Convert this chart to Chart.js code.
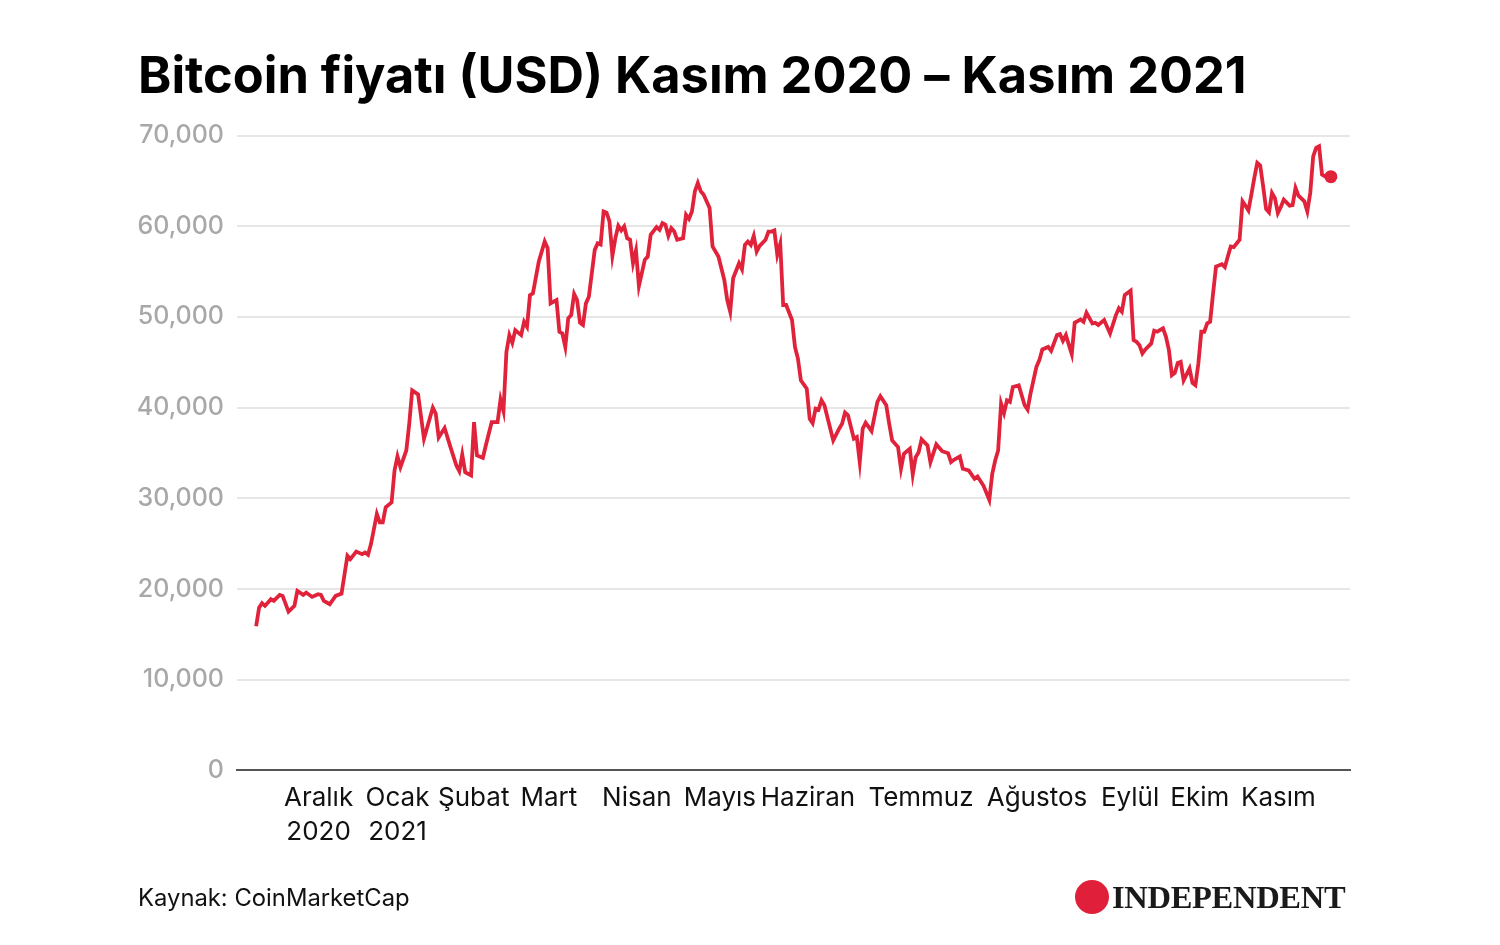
<!DOCTYPE html>
<html>
<head>
<meta charset="utf-8">
<script src="https://cdn.jsdelivr.net/npm/chart.js@4"></script>
<style>
  html, body { margin: 0; padding: 0; background: #fff; }
  #wrap { position: relative; width: 1500px; height: 945px; }
  #source { position: absolute; left: 138px; top: 884px; font: 23.8px Inter, sans-serif; color: #111; line-height: 28px; }
  #logo { position: absolute; left: 1075px; top: 879px; height: 36px; display: flex; align-items: center; }
  #logo .dot { width: 34px; height: 34px; border-radius: 50%; background: #e0203a; margin-right: 3px; }
  #logo .name { font: bold 32.5px "Liberation Serif", serif; color: #1a1a1a; letter-spacing: -0.3px; line-height: 36px; }
</style>
</head>
<body>
<div id="wrap">
  <canvas id="btc"></canvas>
  <div id="source">Kaynak: CoinMarketCap</div>
  <div id="logo"><div class="dot"></div><div class="name">INDEPENDENT</div></div>
</div>
<script>
// days since 16 Nov 2020
days = [0, 1, 2, 3, 5, 6, 8, 9, 11, 13,
  14, 16, 17, 19, 21, 22, 23, 25, 27, 29,
  31, 32, 34, 36, 37, 38, 39, 41, 42, 43,
  44, 46, 47, 48, 49, 51, 52, 53, 55, 57,
  60, 61, 62, 64, 66, 68, 69, 70, 71, 73,
  74, 75, 77, 78, 80, 82, 83, 84, 85, 86,
  87, 88, 90, 91, 92, 93, 94, 96, 98, 99,
  100, 102, 103, 104, 105, 106, 107, 108, 109, 110,
  111, 112, 113, 115, 116, 117, 118, 119, 120, 121,
  122, 123, 124, 125, 126, 127, 128, 129, 130, 132,
  133, 134, 136, 137, 138, 139, 140, 141, 142, 143,
  145, 146, 147, 148, 149, 150, 151, 152, 154, 155,
  156, 157, 159, 160, 161, 162, 164, 165, 166, 167,
  168, 169, 170, 171, 173, 174, 175, 176, 177, 178,
  179, 180, 182, 183, 184, 185, 187, 188, 189, 190,
  191, 192, 193, 195, 196, 198, 199, 200, 201, 203,
  204, 205, 206, 207, 209, 211, 212, 214, 215, 216,
  218, 219, 220, 222, 223, 224, 225, 226, 228, 229,
  231, 233, 235, 236, 237, 239, 240, 242, 244, 245,
  247, 249, 250, 251, 252, 253, 254, 255, 256, 257,
  259, 261, 262, 263, 265, 266, 267, 269, 270, 272,
  273, 274, 275, 277, 278, 280, 281, 282, 284, 285,
  286, 288, 290, 292, 293, 294, 295, 297, 298, 299,
  300, 301, 302, 304, 305, 306, 308, 309, 310, 311,
  312, 313, 314, 315, 317, 318, 319, 320, 321, 322,
  323, 324, 325, 326, 328, 329, 330, 331, 332, 334,
  335, 336, 337, 338, 339, 340, 341, 342, 343, 344,
  345, 346, 347, 348, 349, 351, 352, 353, 354, 356,
  357, 358, 359, 360, 361, 362, 363, 365];

prices = [15900, 17950, 18440, 18140, 18880, 18690, 19350, 19240, 17510, 18140,
  19800, 19350, 19610, 19130, 19430, 19350, 18690, 18320, 19240, 19500,
  23670, 23300, 24140, 23850, 24030, 23780, 24960, 28280, 27350, 27350,
  29010, 29560, 33070, 34620, 33430, 35280, 38230, 41910, 41470, 36570,
  40000, 39340, 36720, 37750, 35650, 33620, 32990, 34840, 32880, 32520,
  38410, 34730, 34470, 35830, 38410, 38410, 40890, 39630, 46150, 48000,
  47150, 48550, 48000, 49470, 48920, 52420, 52610, 56110, 58320, 57590,
  51500, 51870, 48370, 48180, 46700, 49850, 50210, 52540, 51870, 49360,
  49110, 51500, 52240, 57400, 58140, 58000, 61640, 61500, 60530, 56740,
  58690, 60050, 59540, 59980, 58690, 58510, 55930, 57330, 53420, 56300,
  56660, 59060, 59910, 59610, 60350, 60170, 58950, 59800, 59420, 58510,
  58690, 61270, 60830, 61640, 63850, 64780, 63850, 63480, 62010, 57770,
  57220, 56660, 54080, 51870, 50580, 54270, 55930, 55260, 57950, 58320,
  57950, 58950, 57220, 57840, 58510, 59420, 59420, 59540, 56850, 58060,
  51320, 51320, 49660, 46700, 45420, 43020, 42100, 38780, 38300, 39890,
  39780, 40810, 40260, 37680, 36390, 37680, 38230, 39450, 39150, 36570,
  36750, 33990, 37680, 38340, 37420, 40630, 41250, 40260, 38230, 36390,
  35650, 33260, 34920, 35470, 32630, 34540, 35090, 36500, 35830, 33990,
  35950, 35200, 34980, 33990, 34250, 34620, 33260, 33070, 32150, 32400,
  31410, 29830, 32700, 34170, 35280, 40450, 39410, 40810, 40630, 42280,
  42470, 40260, 39780, 41550, 44500, 45240, 46420, 46700, 46260, 48000,
  48110, 47370, 48000, 45900, 49360, 49730, 49470, 50470, 49290, 49360,
  49110, 49660, 48180, 50210, 50950, 50580, 52420, 52900, 47450, 47260,
  46890, 45980, 46420, 47080, 48480, 48370, 48740, 47810, 46340, 43580,
  43830, 44940, 45050, 43020, 44320, 42730, 42470, 44870, 48370, 48370,
  49290, 49470, 52610, 55560, 55820, 55490, 56660, 57770, 57700, 58510,
  62750, 62270, 61750, 63480, 65330, 66990, 66700, 64410, 61900, 61530,
  63670, 63110, 61450, 62120, 62930, 62270, 62340, 64220, 63370, 62750,
  61640, 63670, 67720, 68650, 68830, 65700, 65510, 65470];

// month labels and where they sit on the day axis
monthLabels = [["Aralık", "2020"], ["Ocak", "2021"], "Şubat", "Mart", "Nisan", "Mayıs",
  "Haziran", "Temmuz", "Ağustos", "Eylül", "Ekim", "Kasım"];
monthTicks = [21.2, 48, 73.9, 99.4, 129.3, 157.5, 187.4, 225.8, 265.2, 296.8, 320.5, 347.2];

yTicks = [0, 10000, 20000, 30000, 40000, 50000, 60000, 70000];

canvas = document.getElementById("btc");

new Chart(canvas, {
     type: "line",

     data: {
          datasets: [{
               data: days.map((d, i) => ({ x: d, y: prices[i] })),
               borderColor: "#e1223b",
               backgroundColor: "#e1223b",
               borderWidth: 3.8,
               tension: 0,
               fill: false,
               pointRadius: ctx => ctx.dataIndex === days.length - 1 ? 6.5 : 0,
               pointHoverRadius: 0,
               pointBorderWidth: 0
          }]
     },

     options: {
          responsive: true,
          maintainAspectRatio: false,
          animation: false,
          layout: { padding: { left: 138, right: 150, top: 0, bottom: 93 } },

          plugins: {
               legend: { display: false },
               tooltip: { enabled: false },
               title: {
                    display: true,
                    text: "Bitcoin fiyatı (USD) Kasım 2020 – Kasım 2021",
                    align: "start",
                    color: "#000",
                    font: { family: "Inter", size: 50.5, weight: "bold" },
                    padding: { top: 48, bottom: 27 }
               }
          },

          scales: {
               x: {
                    type: "linear",
                    min: -6.5,
                    max: 371.5,
                    grid: { display: false },
                    border: { display: true, color: "#555", width: 2 },
                    afterBuildTicks: scale => { scale.ticks = monthTicks.map(v => ({ value: v })); },
                    ticks: {
                         autoSkip: false,
                         maxRotation: 0,
                         padding: 3,
                         color: "#111",
                         font: { family: "Inter", size: 26, lineHeight: 1.3 },
                         callback: (v, i) => monthLabels[i]
                    }
               },
               y: {
                    min: 0,
                    max: 70000,
                    afterBuildTicks: scale => { scale.ticks = yTicks.map(v => ({ value: v })); },
                    afterFit: scale => { scale.width = 99; },
                    grid: { color: "#e6e6e6", lineWidth: 2, drawTicks: false },
                    border: { display: false },
                    ticks: {
                         padding: 13,
                         color: "#a8a8a8",
                         font: { family: "Inter", size: 25, weight: "500" },
                         callback: v => v.toLocaleString("en-US")
                    }
               }
          }
     }
});
</script>
</body>
</html>
